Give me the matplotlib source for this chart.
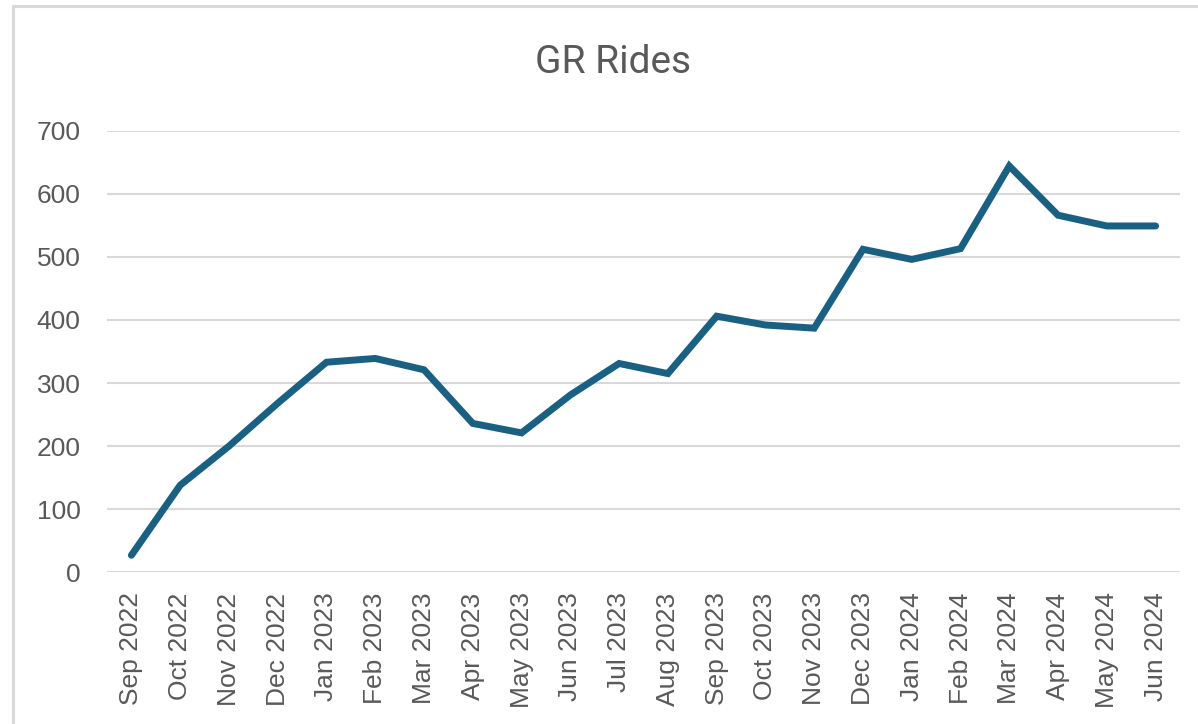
import matplotlib
matplotlib.use("Agg")
import matplotlib.pyplot as plt
from matplotlib.lines import Line2D

months = ["Sep 2022", "Oct 2022", "Nov 2022", "Dec 2022", "Jan 2023", "Feb 2023",
          "Mar 2023", "Apr 2023", "May 2023", "Jun 2023", "Jul 2023", "Aug 2023",
          "Sep 2023", "Oct 2023", "Nov 2023", "Dec 2023", "Jan 2024", "Feb 2024",
          "Mar 2024", "Apr 2024", "May 2024", "Jun 2024"]
rides = [27, 138, 200, 268, 333, 339, 321, 236, 221, 281, 331, 315,
         406, 392, 387, 512, 496, 513, 644, 566, 549, 549]
yticks = [0, 100, 200, 300, 400, 500, 600, 700]
title = "GR Rides"

W, H = 1198, 724
fig = plt.figure(figsize=(W / 100, H / 100), dpi=100)
fig.patch.set_facecolor("white")

left, right, top, bottom = 107, 1180, 130.7, 572.3
ax = fig.add_axes([left / W, 1 - bottom / H, (right - left) / W, (bottom - top) / H])
x = list(range(len(months)))
ax.plot(x, rides, color="#1A6083", lw=5.0, solid_joinstyle="miter", solid_capstyle="round", zorder=3)
ax.set_xlim(-0.5, len(months) - 0.5)
ax.set_ylim(0, 700)
ax.set_yticks(yticks)
ax.set_yticklabels([str(v) for v in yticks])
ax.set_xticks(x)
ax.set_xticklabels(months, rotation=90)
for s in ax.spines.values():
    s.set_visible(False)
ax.grid(axis="y", color="#D9D9D9", lw=1.5)
ax.set_axisbelow(True)
ax.tick_params(axis="both", length=0, labelcolor="#595959", labelsize=19)
ax.tick_params(axis="y", pad=19)
ax.tick_params(axis="x", pad=14.5)
for lab in ax.get_xticklabels() + ax.get_yticklabels():
    lab.set_family(["Liberation Sans", "DejaVu Sans"])

fig.text(613 / W, 1 - 73.3 / H, title, ha="center", va="baseline", fontsize=28,
         color="#595959", family=["Roboto", "DejaVu Sans"])

# outer frame (left and top edges)
fig.add_artist(Line2D([12.5 / W, 12.5 / W], [0, 1 - 5.5 / H], transform=fig.transFigure,
                      color="#D9D9D9", lw=2.2))
fig.add_artist(Line2D([12.5 / W, 1], [1 - 5.5 / H, 1 - 5.5 / H], transform=fig.transFigure,
                      color="#D9D9D9", lw=2.2))

fig.savefig("out.png", dpi=100)
